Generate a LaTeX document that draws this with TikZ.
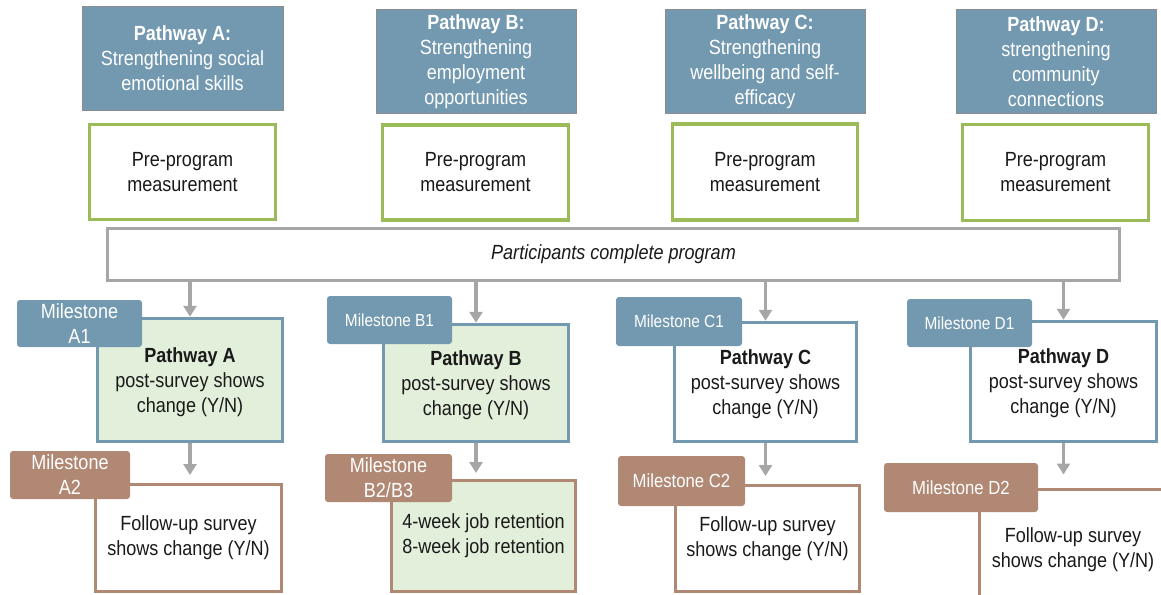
\documentclass[tikz,border=0pt]{standalone}
\usepackage{fontspec}
\setmainfont{Liberation Sans}[FakeStretch=0.88]
\usetikzlibrary{arrows.meta}
\definecolor{pathblue}{RGB}{115,153,176}
\definecolor{framegray}{RGB}{140,140,140}
\definecolor{pregreen}{RGB}{155,187,89}
\definecolor{lightgreen}{RGB}{226,239,218}
\definecolor{milebrown}{RGB}{176,136,116}
\definecolor{arrowgray}{RGB}{166,166,166}
\definecolor{textblack}{RGB}{26,26,26}
\tikzset{>={Triangle[width=13pt,length=11pt]}}
\tikzset{
    every node/.style={align=center,inner sep=0pt,text=textblack,font=\fontsize{20.5}{25}\selectfont},
    header/.style={rectangle,draw=framegray,line width=1pt,fill=pathblue,text=white},
    prebox/.style={rectangle,draw=pregreen,line width=3.5pt,fill=white},
    progbox/.style={rectangle,draw=arrowgray,line width=3pt,fill=white,font=\fontsize{20.5}{25}\selectfont\itshape},
    postbox/.style={rectangle,draw=pathblue,line width=3.5pt,fill=white,text depth=-4pt},
    followbox/.style={rectangle,draw=milebrown,line width=3pt,fill=white},
    mileone/.style={rectangle,rounded corners=3pt,fill=pathblue,text=white},
    miletwo/.style={rectangle,rounded corners=3pt,fill=milebrown,text=white},
    smalltext/.style={font=\fontsize{17.5}{21}\selectfont},
    flow/.style={draw=arrowgray,line width=3.5pt,->},
}

\begin{document}
\begin{tikzpicture}[x=1pt,y=-1pt]
    \useasboundingbox (0,0) rectangle (1161,594);
    \clip (0,0) rectangle (1161,594);

    % pathway headers
    \node[header,minimum width=201,minimum height=103] (hA) at (182.5,58.5) {\textbf{Pathway A:}\\Strengthening social\\emotional skills};
    \node[header,minimum width=200,minimum height=103] (hB) at (476,61.5) {\textbf{Pathway B:}\\Strengthening\\employment\\opportunities};
    \node[header,minimum width=200,minimum height=103] (hC) at (765,61.5) {\textbf{Pathway C:}\\Strengthening\\wellbeing and self-\\efficacy};
    \node[header,minimum width=200,minimum height=103] (hD) at (1056,61.5) {\textbf{Pathway D:}\\strengthening\\community\\connections};

    % pre-program measurement
    \node[prebox,minimum width=186,minimum height=95] (mA) at (182.5,172) {Pre-program\\measurement};
    \node[prebox,minimum width=186,minimum height=95] (mB) at (475.5,172.5) {Pre-program\\measurement};
    \node[prebox,minimum width=185,minimum height=96] (mC) at (765,172) {Pre-program\\measurement};
    \node[prebox,minimum width=186,minimum height=96] (mD) at (1055.5,172.5) {Pre-program\\measurement};

    \node[progbox,minimum width=1012,minimum height=52] (prog) at (613.5,254.5) {Participants complete program};

    % post-survey
    \node[postbox,fill=lightgreen,minimum width=185,minimum height=123] (pA) at (190,380) {\textbf{Pathway A}\\post-survey shows\\change (Y/N)};
    \node[postbox,fill=lightgreen,minimum width=185,minimum height=117] (pB) at (476,383) {\textbf{Pathway B}\\post-survey shows\\change (Y/N)};
    \node[postbox,minimum width=182,minimum height=119] (pC) at (765.5,382) {\textbf{Pathway C}\\post-survey shows\\change (Y/N)};
    \node[postbox,minimum width=186,minimum height=120] (pD) at (1063.5,381.5) {\textbf{Pathway D}\\post-survey shows\\change (Y/N)};

    \node[mileone,minimum width=125,minimum height=47] (a1) at (79.5,323.5) {Milestone\\A1};
    \node[mileone,smalltext,minimum width=125,minimum height=48] (b1) at (389.5,320) {Milestone B1};
    \node[mileone,smalltext,minimum width=126,minimum height=49] (c1) at (679,321.5) {Milestone C1};
    \node[mileone,smalltext,minimum width=125,minimum height=48] (d1) at (969.5,323) {Milestone D1};

    % follow-up
    \node[followbox,minimum width=186,minimum height=107] (fA) at (188.5,538) {Follow-up survey\\shows change (Y/N)};
    \node[followbox,fill=lightgreen,minimum width=184,minimum height=111] (fB) at (483.5,536) {4-week job retention\\8-week job retention};
    \node[followbox,minimum width=184,minimum height=106] (fC) at (767.5,538.5) {Follow-up survey\\shows change (Y/N)};
    \node[followbox,minimum width=188,minimum height=121] (fD) at (1073,549.5) {Follow-up survey\\shows change (Y/N)};

    \node[miletwo,minimum width=120,minimum height=48] (a2) at (70,475) {Milestone\\A2};
    \node[miletwo,minimum width=127,minimum height=48] (b2) at (388.5,478) {Milestone\\B2/B3};
    \node[miletwo,font=\fontsize{19}{22}\selectfont,minimum width=127,minimum height=50] (c2) at (681.5,481) {Milestone C2};
    \node[miletwo,font=\fontsize{19}{22}\selectfont,minimum width=154,minimum height=49] (d2) at (961,487.5) {Milestone D2};

    \draw[flow] (prog.south -| pA) -- (pA.north);
    \draw[flow] (prog.south -| pB) -- (pB.north);
    \draw[flow] (prog.south -| pC) -- (pC.north);
    \draw[flow] (prog.south -| pD) -- (pD.north);

    \draw[flow,shorten >=8pt] (pA.south) -- (pA.south |- fA.north);
    \draw[flow,shorten >=6pt] (pB.south) -- (pB.south |- fB.north);
    \draw[flow,shorten >=8pt] (pC.south) -- (pC.south |- fC.north);
    \draw[flow,shorten >=13pt] (pD.south) -- (pD.south |- fD.north);
\end{tikzpicture}
\end{document}
